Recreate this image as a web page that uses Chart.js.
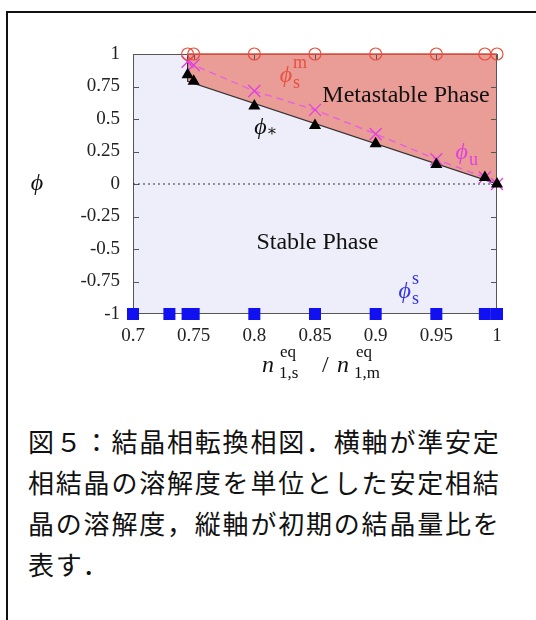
<!DOCTYPE html>
<html>
<head>
<meta charset="utf-8">
<script src="https://cdn.jsdelivr.net/npm/chart.js@4.4.0/dist/chart.umd.min.js"></script>
<style>
html, body { margin: 0; padding: 0; background: #fff; width: 536px; height: 620px; overflow: hidden; }
#frame { position: absolute; left: 6px; top: 11px; width: 600px; height: 700px; border: 2px solid #111; box-sizing: border-box; }
#wrap { position: absolute; left: 0; top: 0; width: 536px; height: 400px; }
#caption { position: absolute; left: 28px; top: 420px; font-family: "Noto Sans CJK JP"; font-size: 26px;
  letter-spacing: 1.8px; line-height: 41px; color: #111; white-space: nowrap; }
</style>
</head>
<body>
<div id="frame"></div>
<div id="wrap"><canvas id="phaseChart" width="536" height="400"></canvas></div>
<div id="caption">図５：結晶相転換相図．横軸が準安定<br>相結晶の溶解度を単位とした安定相結<br>晶の溶解度，縦軸が初期の結晶量比を<br>表す．</div>
<script>
// x: n_eq(1,s) / n_eq(1,m), y: phi
var xTicks = [0.7, 0.75, 0.8, 0.85, 0.9, 0.95, 1];
var xTickLabels = ['0.7', '0.75', '0.8', '0.85', '0.9', '0.95', '1'];
var yTicks = [-1, -0.75, -0.5, -0.25, 0, 0.25, 0.5, 0.75, 1];
var yTickLabels = ['-1', '-0.75', '-0.5', '-0.25', '0', '0.25', '0.5', '0.75', '1'];

var xStable = [0.7, 0.73, 0.745, 0.75, 0.8, 0.85, 0.9, 0.95, 0.99, 1.0];
var phiStable = [-1, -1, -1, -1, -1, -1, -1, -1, -1, -1];

var xMeta = [0.745, 0.75, 0.8, 0.85, 0.9, 0.95, 0.99, 1.0];
var phiMeta = [1, 1, 1, 1, 1, 1, 1, 1];
var phiStar = [0.84, 0.79, 0.60, 0.45, 0.31, 0.15, 0.05, 0.0];
var phiU = [0.94, 0.915, 0.715, 0.57, 0.385, 0.19, 0.05, 0.0];

var boundaryX = [0.745, 0.745, 1.0];
var boundaryY = [1, 0.79, 0];
var zeroX = [0.7, 1.0];
var zeroY = [0, 0];

var serif = '"Liberation Serif", "DejaVu Serif", serif';
var PHI = 'ϕ';

function pts(xs, ys) {
  return xs.map(function (x, i) { return { x: x, y: ys[i] }; });
}

function drawFrame(chart) {
  var ctx = chart.ctx, a = chart.chartArea;
  var xs = chart.scales.x, ys = chart.scales.y;
  ctx.save();
  ctx.strokeStyle = '#555';
  ctx.lineWidth = 1;
  ctx.strokeRect(a.left + 0.5, a.top + 0.5, a.right - a.left - 1, a.bottom - a.top - 1);
  ctx.beginPath();
  xTicks.forEach(function (v) {
    var p = Math.round(xs.getPixelForValue(v)) + 0.5;
    ctx.moveTo(p, a.bottom); ctx.lineTo(p, a.bottom - 6);
    ctx.moveTo(p, a.top); ctx.lineTo(p, a.top + 6);
  });
  yTicks.forEach(function (v) {
    var p = Math.round(ys.getPixelForValue(v)) + 0.5;
    ctx.moveTo(a.left, p); ctx.lineTo(a.left + 6, p);
    ctx.moveTo(a.right, p); ctx.lineTo(a.right - 6, p);
  });
  ctx.stroke();
  ctx.restore();
}

function drawPhi(ctx, px, py, color, sup, sub) {
  ctx.fillStyle = color;
  ctx.textAlign = 'left';
  ctx.textBaseline = 'alphabetic';
  ctx.font = 'italic 24px ' + serif;
  var w = ctx.measureText(PHI).width;
  ctx.fillText(PHI, px - w / 2, py + 6);
  ctx.font = '18px ' + serif;
  if (sup) ctx.fillText(sup, px + w / 2 + 1, py - 8);
  if (sub) ctx.fillText(sub, px + w / 2 + 1, py + 12);
}

var phaseLabels = {
  id: 'phaseLabels',
  beforeDraw: function (chart) {
    var ctx = chart.ctx, a = chart.chartArea;
    ctx.save();
    ctx.fillStyle = '#eeeefb';
    ctx.fillRect(a.left, a.top, a.right - a.left, a.bottom - a.top);
    ctx.restore();
  },
  afterDatasetDraw: function (chart, args) {
    if (chart.data.datasets[args.index].id === 'boundary') drawFrame(chart);
  },
  afterDraw: function (chart) {
    var ctx = chart.ctx, a = chart.chartArea;
    var xs = chart.scales.x, ys = chart.scales.y;
    ctx.save();
    ctx.fillStyle = '#111';
    ctx.textAlign = 'center';
    ctx.textBaseline = 'middle';
    ctx.font = '24px ' + serif;
    ctx.fillText('Metastable Phase', xs.getPixelForValue(0.925), ys.getPixelForValue(0.68));
    ctx.fillText('Stable Phase', xs.getPixelForValue(0.852), ys.getPixelForValue(-0.45));

    drawPhi(ctx, xs.getPixelForValue(0.826), ys.getPixelForValue(0.83), '#e8503f', 'm', 's');
    drawPhi(ctx, xs.getPixelForValue(0.971), ys.getPixelForValue(0.24), '#e040e0', null, 'u');
    drawPhi(ctx, xs.getPixelForValue(0.924), ys.getPixelForValue(-0.83), '#3535e0', 's', 's');
    drawPhi(ctx, xs.getPixelForValue(0.805), ys.getPixelForValue(0.43), '#111', null, null);
    ctx.font = '16px ' + serif;
    ctx.textAlign = 'left';
    ctx.fillText('∗', xs.getPixelForValue(0.805) + 6, ys.getPixelForValue(0.43) + 8);

    // y axis title
    drawPhi(ctx, 37, ys.getPixelForValue(0), '#111', null, null);

    // x axis title
    var cx = (a.left + a.right) / 2, by = a.bottom + 58;
    ctx.fillStyle = '#111';
    ctx.textAlign = 'left';
    ctx.textBaseline = 'alphabetic';
    ctx.font = 'italic 24px ' + serif;
    ctx.fillText('n', cx - 53, by);
    ctx.fillText('n', cx + 22, by);
    ctx.font = '24px ' + serif;
    ctx.fillText('/', cx + 7, by);
    ctx.font = '17px ' + serif;
    ctx.fillText('eq', cx - 35, by - 15);
    ctx.fillText('1,s', cx - 36, by + 6);
    ctx.fillText('eq', cx + 41, by - 15);
    ctx.fillText('1,m', cx + 39, by + 6);
    ctx.restore();
  }
};

var ctx = document.getElementById('phaseChart');
var phaseChart = new Chart(ctx, {
  type: 'line',
  data: {
    datasets: [
      {
        id: 'boundary', data: pts(boundaryX, boundaryY), order: 6,
        borderColor: '#333', borderWidth: 1.2, pointRadius: 0,
        fill: 'end', backgroundColor: '#ea9c96', tension: 0
      },
      {
        id: 'zero', data: pts(zeroX, zeroY), order: 5,
        borderColor: '#333', borderWidth: 1, borderDash: [2, 3], pointRadius: 0, fill: false
      },
      {
        id: 'phiU', data: pts(xMeta, phiU), order: 4,
        borderColor: '#e55ee5', borderWidth: 1.3, borderDash: [7, 5],
        pointStyle: 'crossRot', pointRadius: 8.5, pointBorderColor: '#e040e0', pointBorderWidth: 1.3,
        fill: false, clip: false
      },
      {
        id: 'meta', data: pts(xMeta, phiMeta), order: 3,
        borderColor: '#e8503f', borderWidth: 1.3,
        pointStyle: 'circle', pointRadius: 6, pointBorderColor: '#e8503f', pointBorderWidth: 1.2,
        pointBackgroundColor: 'rgba(0,0,0,0)', fill: false, clip: false
      },
      {
        id: 'star', data: pts(xMeta, phiStar), order: 2, showLine: false,
        pointStyle: 'triangle', pointRadius: 7, pointBorderWidth: 0,
        pointBackgroundColor: '#000', pointBorderColor: '#000', clip: false
      },
      {
        id: 'stable', data: pts(xStable, phiStable), order: 1, showLine: false,
        pointStyle: 'rect', pointRadius: 8.5, pointBorderWidth: 0,
        pointBackgroundColor: '#1010f0', pointBorderColor: '#1010f0', clip: false
      }
    ]
  },
  options: {
    responsive: false,
    animation: false,
    layout: { padding: { left: 0, top: 54, right: 39, bottom: 0 } },
    plugins: { legend: { display: false }, tooltip: { enabled: false } },
    scales: {
      x: {
        type: 'linear', min: 0.7, max: 1,
        afterBuildTicks: function (s) { s.ticks = xTicks.map(function (v) { return { value: v }; }); },
        afterFit: function (s) { s.height = 86; },
        grid: { display: false, drawTicks: false },
        border: { display: false },
        ticks: {
          padding: 11, color: '#222', font: { family: serif, size: 19 }, maxRotation: 0,
          callback: function (v, i) { return xTickLabels[i]; }
        }
      },
      y: {
        type: 'linear', min: -1, max: 1,
        afterBuildTicks: function (s) { s.ticks = yTicks.map(function (v) { return { value: v }; }); },
        afterFit: function (s) { s.width = 133; },
        grid: { display: false, drawTicks: false },
        border: { display: false },
        ticks: {
          padding: 13, color: '#222', font: { family: serif, size: 19 },
          callback: function (v, i) { return yTickLabels[i]; }
        }
      }
    }
  },
  plugins: [phaseLabels]
});
</script>
</body>
</html>
